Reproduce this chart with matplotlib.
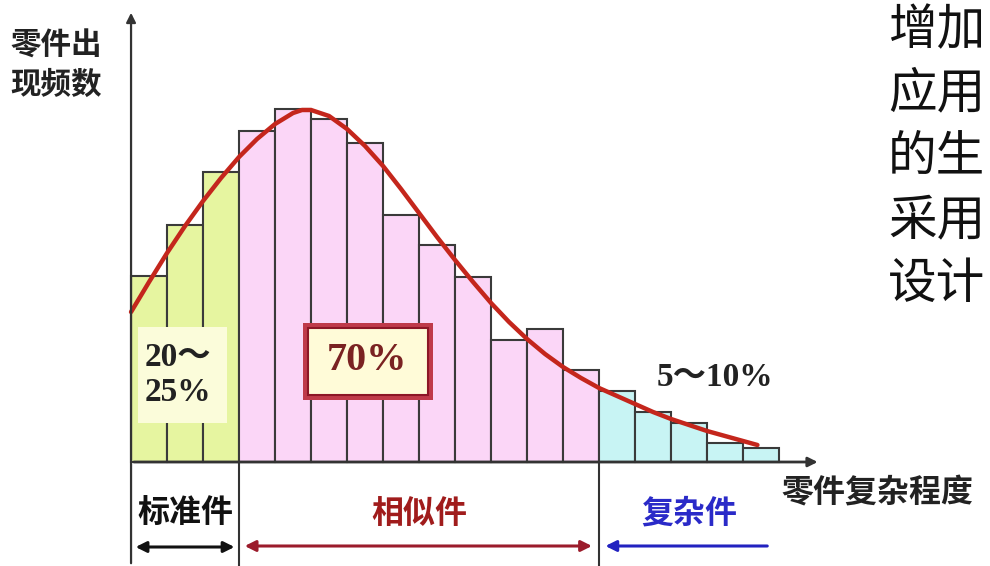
import matplotlib.pyplot as plt
from matplotlib.patches import Rectangle

plt.rcParams['font.family'] = ['Noto Sans CJK SC', 'DejaVu Sans']

# part frequency by complexity class (one bar per complexity step)
standard_freq = [18.6, 23.7, 29.0]
similar_freq = [33.1, 35.3, 34.3, 31.9, 24.7, 21.7, 18.5, 12.2, 13.3, 9.2]
complex_freq = [7.1, 5.0, 3.9, 1.9, 1.4]

# fitted distribution curve
curve_x = [0, 0.5, 1.0, 1.5, 2.0, 2.5, 3.0, 3.5, 4.0, 4.5, 4.75, 5.0, 5.5, 6.0,
           6.5, 7.0, 7.5, 8.0, 8.5, 9.0, 9.5, 10.0, 10.5, 11.0, 11.5, 12.0,
           12.5, 13.0, 13.5, 14.0, 14.5, 15.0, 15.5, 16.0, 16.5, 17.0, 17.4]
curve_y = [15.0, 18.0, 20.9, 23.6, 26.1, 28.4, 30.5, 32.3, 33.8, 34.9, 35.2,
           35.2, 34.6, 33.3, 31.6, 29.6, 27.3, 24.9, 22.5, 20.2, 18.0, 15.9,
           14.0, 12.3, 10.8, 9.5, 8.4, 7.4, 6.6, 5.8, 5.0, 4.3, 3.7, 3.1, 2.6,
           2.1, 1.7]

groups = [('标准件', standard_freq, '#e6f5a0', '#111111'),
          ('相似件', similar_freq, '#fbd6f7', '#a01c1c'),
          ('复杂件', complex_freq, '#c8f4f4', '#2a2ac8')]
shares = ['20～\n25%', '70%', '5～10%']
side_text = ['增加', '应用', '的生', '采用', '设计']

fig = plt.figure(figsize=(9.9, 5.66), dpi=100)
ax = fig.add_axes([0, 0, 1, 1])
ax.set_xlim(-3.64, 23.86)
ax.set_ylim(-10.4, 46.2)
ax.axis('off')

start = 0
bounds = []
for name, freq, color, tcolor in groups:
    xs = [start + i + 0.5 for i in range(len(freq))]
    ax.bar(xs, freq, width=1.0, color=color, edgecolor='#3a3a3a', linewidth=1.5, zorder=2)
    bounds.append((start, start + len(freq)))
    start += len(freq)

# axes with arrow heads
ax.annotate('', xy=(0, 45.2), xytext=(0, -10.4),
            arrowprops=dict(arrowstyle='-|>', color='#333333', lw=1.6, mutation_scale=14),
            annotation_clip=False, zorder=5)
ax.annotate('', xy=(19.15, 0), xytext=(0, 0),
            arrowprops=dict(arrowstyle='-|>', color='#333333', lw=2.0, mutation_scale=14),
            zorder=5)

ax.plot(curve_x, curve_y, color='#c4261c', lw=3.2, solid_capstyle='round',
        solid_joinstyle='round', zorder=4)

# share labels
ax.add_patch(Rectangle((0.19, 3.9), 2.48, 9.6, facecolor='#fbfcda', edgecolor='none', zorder=3))
ax.text(0.39, 8.7, shares[0], ha='left', va='center', fontsize=24, fontweight='bold',
        family=['Liberation Serif', 'Noto Sans CJK SC'], color='#222222',
        linespacing=1.2, zorder=5)

ax.add_patch(Rectangle((4.78, 6.2), 3.61, 7.7, facecolor='#bf3a4a', edgecolor='none', zorder=3))
ax.add_patch(Rectangle((4.92, 6.7), 3.33, 6.7, facecolor='#fffbd8', edgecolor='#8c1626',
                       lw=1.5, zorder=3))
ax.text(6.55, 10.1, shares[1], ha='center', va='center', fontsize=29, fontweight='bold',
        family=['Liberation Serif', 'Noto Sans CJK SC'], color='#7a2222', zorder=5)

ax.text(14.61, 8.5, shares[2], ha='left', va='center', fontsize=24, fontweight='bold',
        family=['Liberation Serif', 'Noto Sans CJK SC'], color='#222222', zorder=5)

# axis titles
ax.text(-3.36, 39.7, '零件出\n现频数', ha='left', va='center', fontsize=22,
        fontweight='bold', color='#222222', linespacing=1.3)
ax.text(18.08, -3.1, '零件复杂程度', ha='left', va='center', fontsize=23,
        fontweight='bold', color='#222222')

# category spans under the axis
for x in [bounds[0][1], bounds[1][1]]:
    ax.plot([x, x], [0, -10.4], color='#333333', lw=1.5, clip_on=False, zorder=5)

for (name, freq, color, tcolor), (a, b) in zip(groups, bounds):
    ax.text((a + b) / 2, -5.2, name, ha='center', va='center', fontsize=23,
            fontweight='bold', color=tcolor)

ax.annotate('', xy=(0.05, -8.5), xytext=(2.95, -8.5),
            arrowprops=dict(arrowstyle='<|-|>', color='#111111', lw=2.2, mutation_scale=16))
ax.annotate('', xy=(3.08, -8.4), xytext=(12.88, -8.4),
            arrowprops=dict(arrowstyle='<|-|>', color='#9b1b2b', lw=2.2, mutation_scale=16))
ax.annotate('', xy=(13.1, -8.4), xytext=(17.75, -8.4),
            arrowprops=dict(arrowstyle='-|>', color='#2222c0', lw=2.2, mutation_scale=16))

# body text on the right
for i, line in enumerate(side_text):
    ax.text(21.03, 43.2 - i * 6.35, line, ha='left', va='center', fontsize=35,
            color='#111111')

fig.savefig('out.png', dpi=100)
